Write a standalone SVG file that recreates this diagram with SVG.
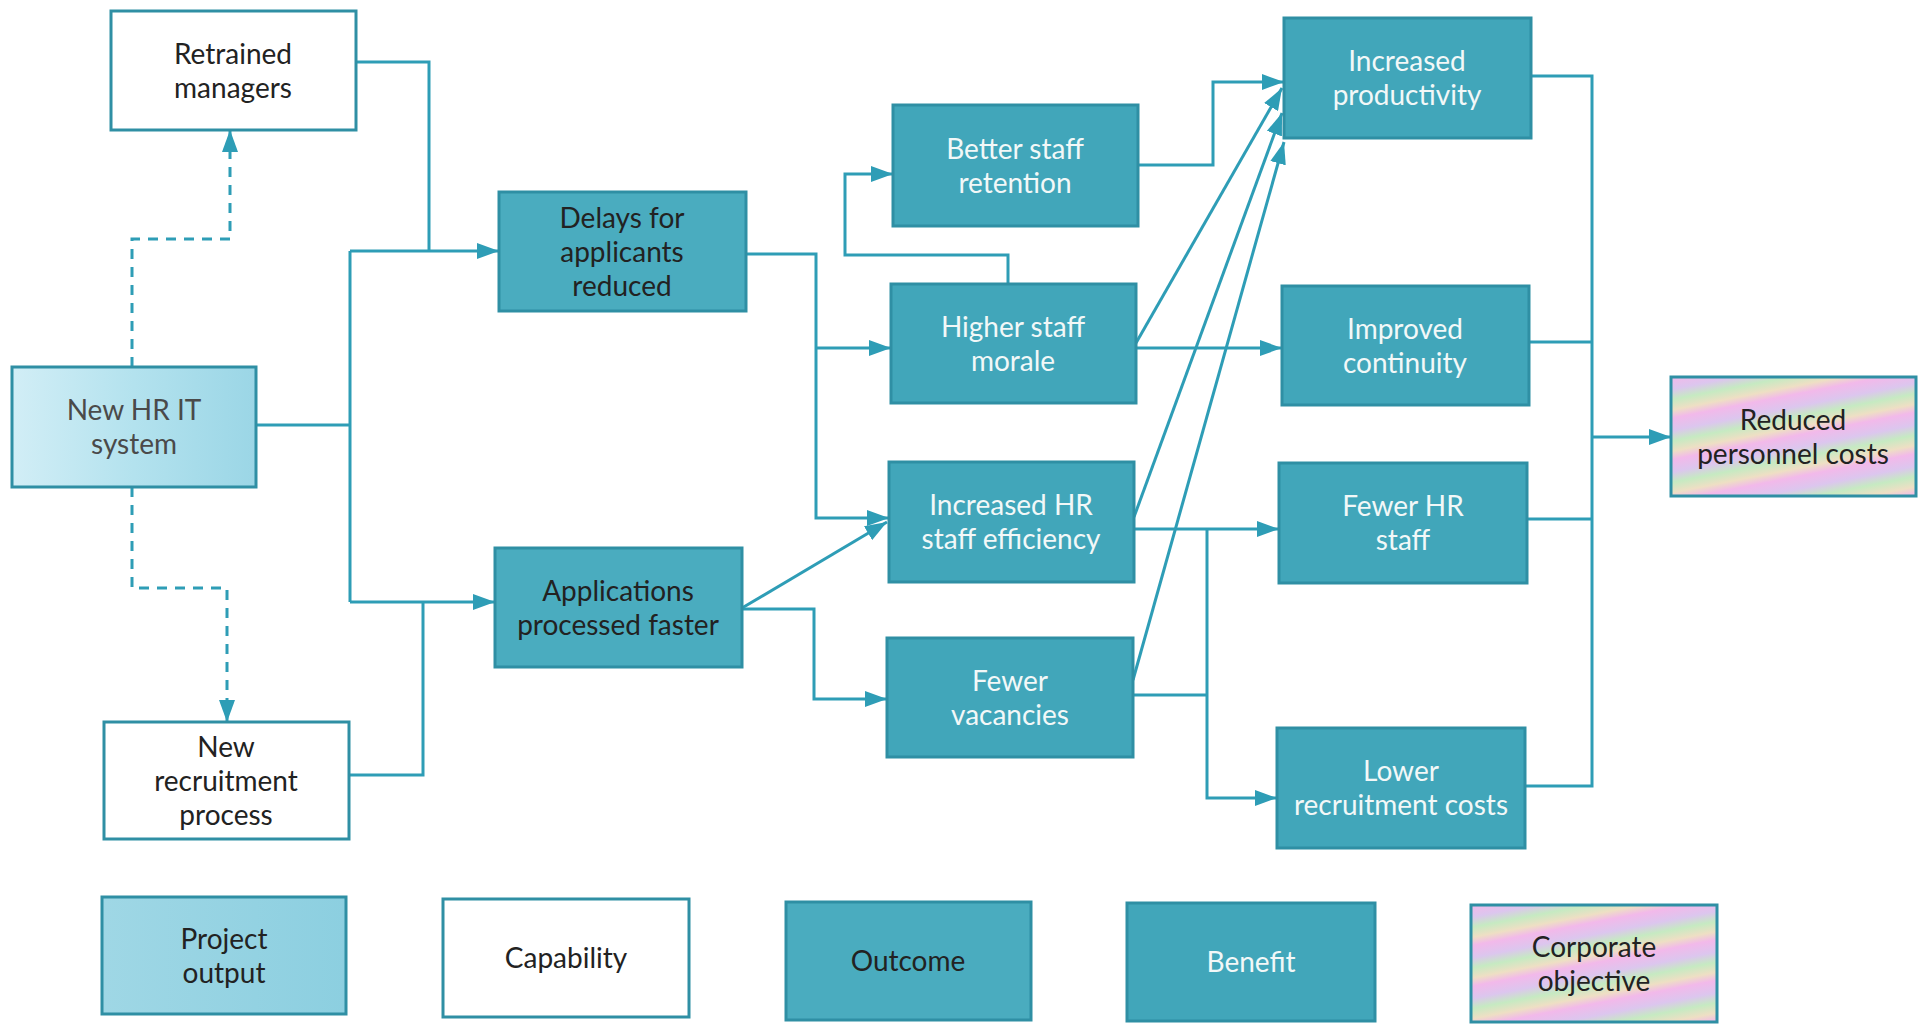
<svg xmlns="http://www.w3.org/2000/svg" width="1918" height="1024" viewBox="0 0 1918 1024">
<defs>
<linearGradient id="gOut" x1="0" y1="0" x2="1" y2="0">
<stop offset="0" stop-color="#d2eef6"/><stop offset="0.5" stop-color="#b3e2ee"/><stop offset="1" stop-color="#9bd6e6"/>
</linearGradient>
<linearGradient id="gOut2" x1="0" y1="0" x2="1" y2="0">
<stop offset="0" stop-color="#9fd7e5"/><stop offset="1" stop-color="#8ccfe0"/>
</linearGradient>
<linearGradient id="gCorp" x1="0" y1="0" x2="0.12" y2="0.3" spreadMethod="repeat">
<stop offset="0" stop-color="#f2b9ea"/><stop offset="0.3" stop-color="#dcc6ee"/><stop offset="0.55" stop-color="#c6eac2"/><stop offset="0.8" stop-color="#eedfc4"/><stop offset="1" stop-color="#f2b9ea"/>
</linearGradient>
<marker id="ah" viewBox="0 0 10 10" refX="10" refY="5" markerWidth="22" markerHeight="16" markerUnits="userSpaceOnUse" orient="auto" preserveAspectRatio="none">
<path d="M0,0 L10,5 L0,10 z" fill="#2e9db6"/>
</marker>
</defs>
<style>
text{font-family:Lato,"Open Sans","Liberation Sans",sans-serif;font-size:28px;text-anchor:middle}
.box{stroke:#2f8fa4;stroke-width:3}
.cap{fill:#ffffff}
.po{fill:url(#gOut)}
.po2{fill:url(#gOut2)}
.oc{fill:#4aacbf}
.bn{fill:#41a6ba}
.co{fill:url(#gCorp)}
.dk{fill:#222222}
.gr{fill:#4a4a4a}
.wt{fill:#f2f8f8}
.ln{fill:none;stroke:#2e9db6;stroke-width:3}
.ar{marker-end:url(#ah)}
.ds{stroke-dasharray:10 8}
</style>
<rect width="1918" height="1024" fill="#ffffff"/>

<g id="connectors">
<path class="ln" d="M256 425 H350"/>
<path class="ln" d="M350 251 V602"/>
<path class="ln ar" d="M350 251 H499"/>
<path class="ln ar" d="M350 602 H495"/>
<path class="ln" d="M356 62 H429 V251"/>
<path class="ln" d="M349 775 H423 V602"/>
<path class="ln ds ar" d="M132 367 V239 H230 V130"/>
<path class="ln ds ar" d="M132 487 V588 H227 V722"/>
<path class="ln ar" d="M746 254 H816 V518 H889"/>
<path class="ln ar" d="M816 348 H891"/>
<path class="ln ar" d="M742 608 L887 522"/>
<path class="ln ar" d="M742 609 H814 V699 H887"/>
<path class="ln ar" d="M1008 284 V255 H845 V174 H893"/>
<path class="ln ar" d="M1138 165 H1213 V82 H1284"/>
<path class="ln ar" d="M1136 343 L1282 88"/>
<path class="ln ar" d="M1134 517 L1282 113"/>
<path class="ln ar" d="M1133 680 L1284 142"/>
<path class="ln ar" d="M1136 348 H1282"/>
<path class="ln ar" d="M1134 529 H1279"/>
<path class="ln ar" d="M1207 529 V798 H1277"/>
<path class="ln" d="M1133 695 H1207"/>
<path class="ln" d="M1531 76 H1592 V786 H1525"/>
<path class="ln" d="M1529 342 H1592"/>
<path class="ln" d="M1527 519 H1592"/>
<path class="ln ar" d="M1592 437 H1671"/>
</g>

<g id="retrained"><rect class="box cap" x="111" y="11" width="245" height="119"/>
<text class="dk" x="233" y="64">Retrained</text><text class="dk" x="233" y="98">managers</text></g>

<g id="newhr"><rect class="box po" x="12" y="367" width="244" height="120"/>
<text class="gr" x="134" y="420">New HR IT</text><text class="gr" x="134" y="454">system</text></g>

<g id="recruit"><rect class="box cap" x="104" y="722" width="245" height="117"/>
<text class="dk" x="226" y="757">New</text><text class="dk" x="226" y="791">recruitment</text><text class="dk" x="226" y="825">process</text></g>

<g id="delays"><rect class="box oc" x="499" y="192" width="247" height="119"/>
<text class="dk" x="622" y="228">Delays for</text><text class="dk" x="622" y="262">applicants</text><text class="dk" x="622" y="296">reduced</text></g>

<g id="apps"><rect class="box oc" x="495" y="548" width="247" height="119"/>
<text class="dk" x="618" y="601">Applications</text><text class="dk" x="618" y="635">processed faster</text></g>

<g id="retention"><rect class="box bn" x="893" y="105" width="245" height="121"/>
<text class="wt" x="1015" y="159">Better staff</text><text class="wt" x="1015" y="193">retention</text></g>

<g id="morale"><rect class="box bn" x="891" y="284" width="245" height="119"/>
<text class="wt" x="1013" y="337">Higher staff</text><text class="wt" x="1013" y="371">morale</text></g>

<g id="efficiency"><rect class="box bn" x="889" y="462" width="245" height="120"/>
<text class="wt" x="1011" y="515">Increased HR</text><text class="wt" x="1011" y="549">staff efficiency</text></g>

<g id="vacancies"><rect class="box bn" x="887" y="638" width="246" height="119"/>
<text class="wt" x="1010" y="691">Fewer</text><text class="wt" x="1010" y="725">vacancies</text></g>

<g id="productivity"><rect class="box bn" x="1284" y="18" width="247" height="120"/>
<text class="wt" x="1407" y="71">Increased</text><text class="wt" x="1407" y="105">productivity</text></g>

<g id="continuity"><rect class="box bn" x="1282" y="286" width="247" height="119"/>
<text class="wt" x="1405" y="339">Improved</text><text class="wt" x="1405" y="373">continuity</text></g>

<g id="fewerhr"><rect class="box bn" x="1279" y="463" width="248" height="120"/>
<text class="wt" x="1403" y="516">Fewer HR</text><text class="wt" x="1403" y="550">staff</text></g>

<g id="lowercost"><rect class="box bn" x="1277" y="728" width="248" height="120"/>
<text class="wt" x="1401" y="781">Lower</text><text class="wt" x="1401" y="815">recruitment costs</text></g>

<g id="reduced"><rect class="box co" x="1671" y="377" width="245" height="119"/>
<text class="dk" x="1793" y="430">Reduced</text><text class="dk" x="1793" y="464">personnel costs</text></g>

<g id="legend-project-output"><rect class="box po2" x="102" y="897" width="244" height="117"/>
<text class="dk" x="224" y="949">Project</text><text class="dk" x="224" y="983">output</text></g>

<g id="legend-capability"><rect class="box cap" x="443" y="899" width="246" height="118"/>
<text class="dk" x="566" y="968">Capability</text></g>

<g id="legend-outcome"><rect class="box oc" x="786" y="902" width="245" height="118"/>
<text class="dk" x="908" y="971">Outcome</text></g>

<g id="legend-benefit"><rect class="box bn" x="1127" y="903" width="248" height="118"/>
<text class="wt" x="1251" y="972">Benefit</text></g>

<g id="legend-corporate"><rect class="box co" x="1471" y="905" width="246" height="117"/>
<text class="dk" x="1594" y="957">Corporate</text><text class="dk" x="1594" y="991">objective</text></g>
</svg>
